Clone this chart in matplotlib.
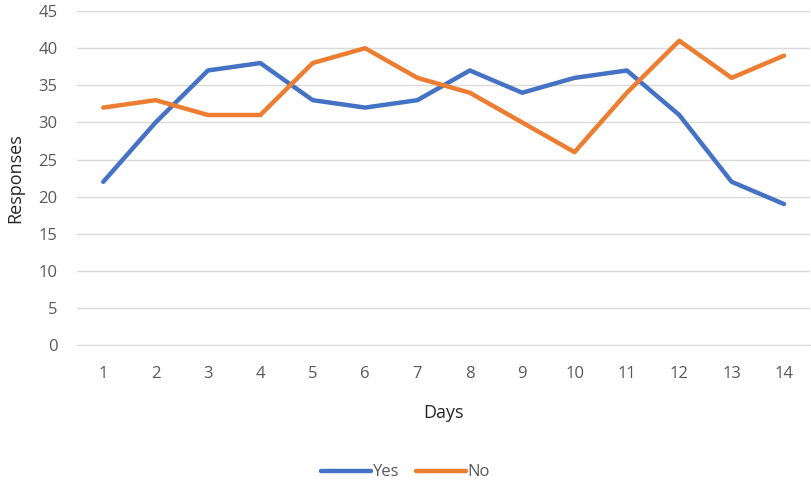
import matplotlib
matplotlib.use('Agg')
import matplotlib.pyplot as plt

days = list(range(1, 15))
yes = [22, 30, 37, 38, 33, 32, 33, 37, 34, 36, 37, 31, 22, 19]
no = [32, 33, 31, 31, 38, 40, 36, 34, 30, 26, 34, 41, 36, 39]
y_ticks = list(range(0, 50, 5))

text_color = '#595959'
plt.rcParams['font.family'] = ['Open Sans', 'DejaVu Sans']

fig = plt.figure(figsize=(8.11, 4.82), dpi=100)
ax = fig.add_axes([0.095, 0.284, 0.904, 0.693])

ax.plot(days, yes, color='#4472C4', lw=3.2, label='Yes', solid_capstyle='round', solid_joinstyle='round')
ax.plot(days, no, color='#ED7D31', lw=3.2, label='No', solid_capstyle='round', solid_joinstyle='round')

ax.set_xlim(0.5, 14.5)
ax.set_ylim(0, 45)
ax.set_yticks(y_ticks)
ax.set_xticks(days)
ax.grid(axis='y', color='#D9D9D9', lw=1)
ax.set_axisbelow(True)
for s in ['top', 'right', 'left']:
    ax.spines[s].set_visible(False)
ax.spines['bottom'].set_color('#D9D9D9')
ax.tick_params(length=0, labelsize=12, colors=text_color)
ax.tick_params(axis='x', pad=15)
ax.tick_params(axis='y', pad=14)

ax.set_xlabel('Days', fontsize=13, color='#262626', labelpad=16)
ax.set_ylabel('Responses', fontsize=13, color='#262626', labelpad=10)

fig.legend(loc='center', bbox_to_anchor=(0.5, 0.02), ncol=2, frameon=False,
           fontsize=12, labelcolor=text_color, handlelength=3.0, columnspacing=1.0,
           handletextpad=0.1)

fig.savefig('out.png', dpi=100)
